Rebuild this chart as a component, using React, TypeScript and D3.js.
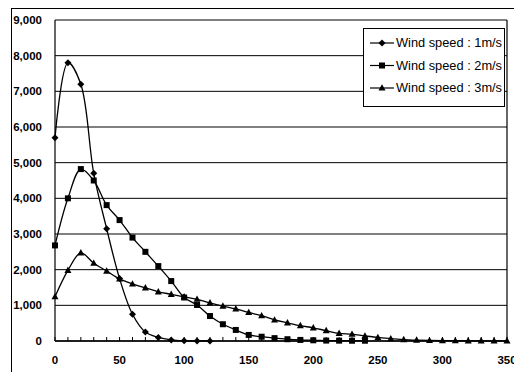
import React from 'react';
import * as d3 from 'd3';

// x positions (every 10 units)
const xs1 = [0, 10, 20, 30, 40, 50, 60, 70, 80, 90, 100, 110, 120];
const speed1 = [5700, 7800, 7200, 4700, 3150, 1750, 750, 250, 100, 30, 5, 0, 0];

const xs2 = [0, 10, 20, 30, 40, 50, 60, 70, 80, 90, 100, 110, 120, 130, 140, 150, 160, 170, 180, 190, 200, 210, 220, 230, 240];
const speed2 = [2680, 4000, 4820, 4500, 3810, 3390, 2900, 2500, 2100, 1680, 1220, 1010, 700, 470, 310, 170, 120, 80, 50, 30, 20, 12, 10, 8, 8];

const xs3 = [0, 10, 20, 30, 40, 50, 60, 70, 80, 90, 100, 110, 120, 130, 140, 150, 160, 170, 180, 190, 200, 210, 220, 230, 240, 250, 260, 270, 280, 290, 300, 310, 320, 330, 340, 350];
const speed3 = [1240, 1980, 2470, 2180, 1960, 1740, 1600, 1490, 1380, 1310, 1240, 1170, 1070, 980, 900, 800, 710, 590, 510, 430, 370, 290, 215, 190, 140, 100, 65, 40, 25, 15, 10, 8, 6, 5, 5, 5];

const seriesNames = ['Wind speed : 1m/s', 'Wind speed : 2m/s', 'Wind speed : 3m/s'];
const xTicks = [0, 50, 100, 150, 200, 250, 300, 350];
const yTicks = [0, 1000, 2000, 3000, 4000, 5000, 6000, 7000, 8000, 9000];

const font = '"Liberation Sans", Arial, sans-serif';

const Marker = ({ kind, x, y }: { kind: string; x: number; y: number }) => {
  if (kind === 'diamond') {
    return <path d={`M${x},${y - 3.5}L${x + 3.5},${y}L${x},${y + 3.5}L${x - 3.5},${y}Z`} fill="#000" />;
  }
  if (kind === 'square') {
    return <rect x={x - 3} y={y - 3} width={6} height={6} fill="#000" />;
  }
  return <path d={`M${x},${y - 3.8}L${x + 3.5},${y + 2.6}L${x - 3.5},${y + 2.6}Z`} fill="#000" />;
};

const App = () => {
  const width = 514;
  const height = 372;
  const x = d3.scaleLinear().domain([0, 350]).range([55, 507]);
  const y = d3.scaleLinear().domain([0, 9000]).range([341, 20]);

  const line = d3
    .line<[number, number]>()
    .x(d => x(d[0]))
    .y(d => y(d[1]))
    .curve(d3.curveCatmullRom.alpha(0.5));

  const series = [
    { xs: xs1, vals: speed1, kind: 'diamond' },
    { xs: xs2, vals: speed2, kind: 'square' },
    { xs: xs3, vals: speed3, kind: 'triangle' },
  ];

  const minorTicks = d3.range(0, 351, 10);
  const legendY = [43, 65.5, 88];

  return (
    <svg width={width} height={height} style={{ position: 'absolute', left: 0, top: 0, background: '#fff' }}>
      {/* outer frame */}
      <line x1={11.5} y1={8} x2={11.5} y2={372} stroke="#000" strokeWidth={1} />
      <line x1={11} y1={8.5} x2={514} y2={8.5} stroke="#000" strokeWidth={1} />

      {/* grid */}
      {yTicks.map(t => (
        <line key={t} x1={x(0)} x2={x(350)} y1={y(t)} y2={y(t)} stroke="#000" strokeWidth={1} />
      ))}
      <line x1={x(0)} x2={x(0)} y1={y(9000)} y2={y(0)} stroke="#000" strokeWidth={1.2} />
      <line x1={x(350)} x2={x(350)} y1={y(9000)} y2={y(0)} stroke="#000" strokeWidth={1.2} />
      <line x1={x(0)} x2={x(350)} y1={y(0)} y2={y(0)} stroke="#000" strokeWidth={1.5} />
      {minorTicks.map(t => (
        <line key={t} x1={x(t)} x2={x(t)} y1={y(0)} y2={y(0) - 4} stroke="#000" strokeWidth={1} />
      ))}

      {/* y labels */}
      {yTicks.map(t => (
        <text key={t} x={42} y={y(t)} dy="0.35em" textAnchor="end" fontFamily={font} fontSize={11.5} fontWeight="bold">
          {d3.format(',')(t)}
        </text>
      ))}
      {/* x labels */}
      {xTicks.map(t => (
        <text key={t} x={x(t)} y={360} dy="0.35em" textAnchor="middle" fontFamily={font} fontSize={11.5} fontWeight="bold">
          {t}
        </text>
      ))}

      {/* series */}
      {series.map((s, i) => {
        const pts = s.xs.map((v, j) => [v, s.vals[j]] as [number, number]);
        return (
          <g key={i}>
            <path d={line(pts) || ''} fill="none" stroke="#000" strokeWidth={1.3} />
            {pts.map((p, j) => (
              <Marker key={j} kind={s.kind} x={x(p[0])} y={y(p[1])} />
            ))}
          </g>
        );
      })}

      {/* legend */}
      <rect x={363.5} y={28.5} width={141} height={78} fill="#fff" stroke="#000" strokeWidth={1} />
      {seriesNames.map((name, i) => (
        <g key={name}>
          <line x1={370} x2={394} y1={legendY[i]} y2={legendY[i]} stroke="#000" strokeWidth={1.2} />
          <Marker kind={series[i].kind} x={382} y={legendY[i]} />
          <text x={396} y={legendY[i]} dy="0.35em" fontFamily={font} fontSize={12} textLength={106} lengthAdjust="spacingAndGlyphs">
            {name}
          </text>
        </g>
      ))}
    </svg>
  );
};

export default App;
